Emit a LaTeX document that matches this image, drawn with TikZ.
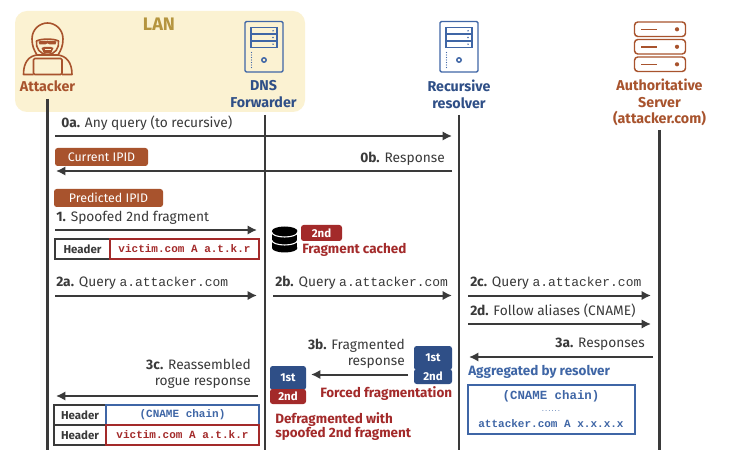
\documentclass[tikz,border=0pt]{standalone}
\usepackage{fontspec}
\setmainfont{Fira Sans}
\setmonofont{Liberation Mono}
\usetikzlibrary{arrows.meta}
\definecolor{lanbg}{HTML}{FBF2D2}
\definecolor{lantxt}{HTML}{B5953F}
\definecolor{rust}{HTML}{A8532D}
\definecolor{navy}{HTML}{2F4F87}
\definecolor{srvblue}{HTML}{3F66A6}
\definecolor{crimson}{HTML}{A32A2A}
\definecolor{ink}{HTML}{3A3A3A}
\tikzset{
  x=0.75pt,y=-0.75pt,
  life/.style={draw=ink,line width=1.7pt},
  msg/.style={draw=ink,line width=1.5pt,-{Latex[length=7pt,width=7pt]}},
  lbl/.style={font=\fontsize{10.3}{10.3}\selectfont,text=ink,inner sep=0pt,anchor=base west},
  lblr/.style={lbl,anchor=base east},
  head/.style={font=\bfseries\fontsize{10.7}{12.4}\selectfont,align=center,inner sep=0pt},
  pill/.style={rounded corners=2pt,fill=#1},
  note/.style={font=\bfseries\fontsize{10.1}{11.2}\selectfont,inner sep=0pt,align=left},
  cell/.style={draw=#1,line width=1.1pt},
  code/.style={font=\ttfamily\bfseries\fontsize{8.25}{8.25}\selectfont,text=#1,inner sep=0pt},
}
\newcommand{\rectnode}[7]{% name, x1, y1, x2, y2, style, text
  \path (#2,#3) -- (#4,#5) coordinate[pos=.5] (#1c);
  \path[#6] (#2,#3) rectangle (#4,#5);
  \node[inner sep=0pt] (#1) at (#1c) {#7};}
\newcommand{\pilltxt}[1]{\textcolor{white}{\fontsize{9.3}{9.3}\selectfont #1}}
\newcommand{\fragtxt}[1]{\textcolor{white}{\bfseries\fontsize{8.6}{8.6}\selectfont #1}}
\newcommand{\hdrtxt}{\textcolor{ink}{\bfseries\fontsize{8.6}{8.6}\selectfont Header}}
\newcommand{\codetxt}[2]{\textcolor{#1}{\ttfamily\bfseries\fontsize{8.25}{8.25}\selectfont #2}}
\newcommand{\qname}{{\ttfamily\fontsize{9.7}{9.7}\selectfont a.attacker.com}}
\newcommand{\towericon}[2]{% x,y top-left of 38x51 tower
  \begin{scope}[shift={(#1,#2)},draw=srvblue,line width=1.1pt]
    \draw[rounded corners=1pt] (0,0) rectangle (38,50.5);
    \draw (6,6) rectangle (32,26);
    \draw (6,12.7) -- (32,12.7) (6,19.4) -- (32,19.4);
    \fill[srvblue] (28,9.3) circle (.8) (28,16) circle (.8) (28,22.7) circle (.8);
    \draw (19,38.5) circle (2.2);
    \foreach \yy in {31,33.5,...,46} \fill[srvblue] (6.5,\yy) circle (.6);
  \end{scope}}
\begin{document}
\begin{tikzpicture}
\useasboundingbox (0,0) rectangle (730,466);
\fill[white] (0,0) rectangle (730,466);
% LAN
\fill[lanbg,rounded corners=9pt] (15,11) rectangle (305,112);
\node[font=\bfseries\fontsize{13.6}{13.6}\selectfont,text=lantxt,inner sep=0pt] (lan) at (159,24) {LAN};
% Attacker icon
\begin{scope}[draw=rust,line width=1.2pt,line join=round]
  \draw (32,39) .. controls (32,29) and (40,23) .. (47.5,23) .. controls (55,23) and (63,29) .. (63,39)
        .. controls (63,46) and (61,50) .. (58,55) -- (37,55) .. controls (34,50) and (32,46) .. (32,39) -- cycle;
  \draw (36.5,41) .. controls (41,38.5) and (54,38.5) .. (58.5,41) .. controls (59.5,48) and (55,54.5) .. (47.5,54.5) .. controls (40,54.5) and (35.5,48) .. (36.5,41) -- cycle;
  \fill[rust] (38.5,41.5) .. controls (42,40.5) and (53,40.5) .. (56.5,41.5) -- (55.5,44.5) -- (50,44.5) -- (47.5,43.3) -- (45,44.5) -- (39.5,44.5) -- cycle;
  \fill[rust] (41.5,48) -- (44,47) -- (51,47) -- (53.5,48) -- (51,53.5) -- (44,53.5) -- cycle;
  \fill[lanbg] (44.5,49) rectangle (50.5,50.5);
  \draw (37,55) .. controls (29,56) and (23.5,62) .. (23.5,74.5) -- (33.5,74.5);
  \draw (58,55) .. controls (66,56) and (72,62) .. (72,74.5) -- (62,74.5);
  \draw[rounded corners=1pt] (33.5,58.5) rectangle (62,74.5);
\end{scope}
\node[head,text=rust] (attacker) at (47.5,86.5) {Attacker};
% Forwarder
\towericon{245}{21.5}
\node[head,text=navy] (fwd) at (263.5,94.3) {DNS\\Forwarder};
% Recursive
\towericon{440}{21.5}
\node[head,text=navy] (rec) at (459,94.3) {Recursive\\resolver};
% Authoritative icon
\begin{scope}[draw=rust,line width=1.1pt]
  \foreach \yy in {22,39.5,57}{
    \draw[rounded corners=2.5pt] (634.5,\yy) rectangle (685.5,\yy+14.5);
    \draw (641,\yy+7.3) -- (657,\yy+7.3);
    \fill[rust] (677,\yy+7.3) circle (2.1);
  }
\end{scope}
\node[head,text=rust] (auth) at (659.5,102.8) {Authoritative\\Server\\(attacker.com)};
% Lifelines
\coordinate (a0) at (47.5,99); \coordinate (a1) at (47.5,450);
\coordinate (f0) at (265,115); \coordinate (f1) at (265,450);
\coordinate (r0) at (459.3,115); \coordinate (r1) at (459.3,450);
\coordinate (s0) at (659.5,130); \coordinate (s1) at (659.5,450);
\foreach \p in {a,f,r,s} \draw[life] (\p0) -- (\p1);
% 0a / 0b
\coordinate (m0al) at (55,136); \coordinate (m0ar) at (452,136);
\draw[msg] (m0al) -- (m0ar);
\node[lbl] (t0a) at (61,128) {\textbf{0a.} Any query (to recursive)};
\rectnode{cur}{55}{148}{148}{166}{pill=rust}{\pilltxt{Current IPID}}
\coordinate (m0bl) at (56,171); \coordinate (m0br) at (452,171);
\draw[msg] (m0br) -- (m0bl);
\node[lblr] (t0b) at (445,162.5) {\textbf{0b.} Response};
% 1
\rectnode{pre}{54}{189}{163}{207}{pill=rust}{\pilltxt{Predicted IPID}}
\node[lbl] (t1) at (56,222) {\textbf{1.} Spoofed 2nd fragment};
\coordinate (m1l) at (55,230); \coordinate (m1r) at (257,230);
\draw[msg] (m1l) -- (m1r);
\rectnode{h1}{55}{239}{110}{259}{cell=ink}{\hdrtxt}
\rectnode{v1}{110}{239}{259}{259}{cell=crimson}{\codetxt{crimson}{victim.com A a.t.k.r}}
% database icon
\fill[black] (272,231) rectangle (297.4,248);
\fill[black] (284.7,231) ellipse [x radius=12.7,y radius=4.5];
\fill[black] (284.7,248) ellipse [x radius=12.7,y radius=4.5];
\draw[white,line width=.8pt] (272,232.5) arc[start angle=180,end angle=0,x radius=12.7,y radius=4.5];
\draw[white,line width=.8pt] (272,240.5) arc[start angle=180,end angle=0,x radius=12.7,y radius=4.5];
\rectnode{frag2}{301}{225}{342}{241}{pill=crimson}{\fragtxt{2nd}}
\node[note,text=crimson,anchor=west] (cached) at (302,249.5) {Fragment cached};
% 2
\coordinate (m2al) at (55,295.5); \coordinate (m2ar) at (257,295.5);
\draw[msg] (m2al) -- (m2ar);
\node[lbl] (t2a) at (56,286) {\textbf{2a.} Query \qname};
\coordinate (m2bl) at (273,295.5); \coordinate (m2br) at (452,295.5);
\draw[msg] (m2bl) -- (m2br);
\node[lbl] (t2b) at (275,286) {\textbf{2b.} Query \qname};
\coordinate (m2cl) at (468,295.5); \coordinate (m2cr) at (651,295.5);
\draw[msg] (m2cl) -- (m2cr);
\node[lbl] (t2c) at (470,286) {\textbf{2c.} Query \qname};
\coordinate (m2dl) at (468,324); \coordinate (m2dr) at (651,324);
\draw[msg] (m2dl) -- (m2dr);
\node[lbl] (t2d) at (470,315) {\textbf{2d.} Follow aliases (CNAME)};
% 3a
\coordinate (m3al) at (469,357); \coordinate (m3ar) at (653,357);
\draw[msg] (m3ar) -- (m3al);
\node[lblr] (t3a) at (645,347) {\textbf{3a.} Responses};
\node[note,text=srvblue,anchor=west] (agg) at (468,372) {Aggregated by resolver};
\rectnode{chain}{468}{385}{635}{434}{cell=srvblue}{}
\node[code=srvblue,font=\ttfamily\bfseries\fontsize{9.3}{9.3}\selectfont] (c1) at (551,396) {(CNAME chain)};
\node[code=srvblue,font=\ttfamily\bfseries\fontsize{4}{4}\selectfont] (c2) at (551,411) {......};
\node[code=srvblue] (c3) at (551,423.5) {attacker.com A x.x.x.x};
% 3b
\node[lblr,align=right,anchor=east,font=\fontsize{10.3}{12}\selectfont] (t3b) at (405,353.5) {\textbf{3b.} Fragmented\\response};
\rectnode{r1st}{414}{346}{452}{370}{pill=navy}{\fragtxt{1st}}
\rectnode{r2nd}{414}{369}{452}{384}{pill=navy}{\fragtxt{2nd}}
\coordinate (m3br) at (408,374.5); \coordinate (m3bl) at (311,374.5);
\draw[msg] (m3br) -- (m3bl);
\rectnode{l1st}{270}{366}{306}{390}{pill=navy}{\fragtxt{1st}}
\rectnode{l2nd}{270}{389}{306}{404}{pill=crimson}{\fragtxt{2nd}}
\node[note,text=crimson,anchor=west] (forced) at (320,394) {Forced fragmentation};
\node[note,text=crimson,anchor=west] (defrag) at (275,426.5) {Defragmented with\\spoofed 2nd fragment};
% 3c
\node[lblr,align=right,anchor=east,font=\fontsize{10.3}{12}\selectfont] (t3c) at (251,374) {\textbf{3c.} Reassembled\\rogue response};
\coordinate (m3cr) at (258,396); \coordinate (m3cl) at (56,396);
\draw[msg] (m3cr) -- (m3cl);
\rectnode{h2}{54}{405}{106}{425}{cell=ink}{\hdrtxt}
\rectnode{h3}{54}{425}{106}{445}{cell=ink}{\hdrtxt}
\rectnode{b2}{106}{405}{259}{425}{cell=srvblue}{\codetxt{srvblue}{(CNAME chain)}}
\rectnode{b3}{106}{425}{259}{445}{cell=crimson}{\codetxt{crimson}{victim.com A a.t.k.r}}
\end{tikzpicture}
\end{document}
